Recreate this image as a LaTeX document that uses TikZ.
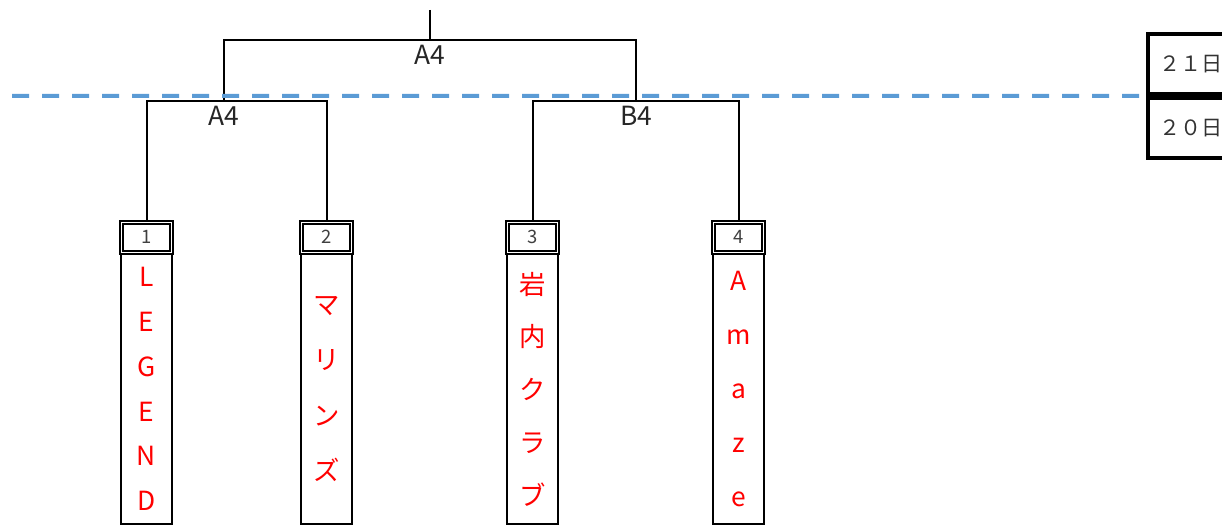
\documentclass[tikz,border=0pt]{standalone}
\usepackage{fontspec}
\setmainfont{Noto Sans CJK JP}
\usetikzlibrary{positioning}
\definecolor{splitblue}{RGB}{91,155,213}
\newcommand{\namefont}[1]{\fontsize{15}{#1}\selectfont}
\tikzstyle{numbox}=[rectangle,draw=black,double,line width=0.4mm,double distance=0.2mm,
minimum width=10mm,minimum height=5.9mm,inner sep=0pt,font=\fontsize{10.5}{12}\selectfont,text=black!75]
\tikzstyle{namecol}=[rectangle,draw=black,line width=0.4mm,minimum width=10.2mm,
minimum height=54mm,inner sep=0pt,align=center,text=red]
\tikzstyle{matchlabel}=[inner sep=0pt,font=\fontsize{15}{18}\selectfont,text=black!85]
\tikzstyle{bracket}=[draw=black,line width=0.4mm]
\tikzstyle{daycell}=[rectangle,draw=black,line width=0.8mm,minimum height=12mm,text width=18mm,
inner xsep=2.2mm,align=left,font=\fontsize{12}{14}\selectfont,text=black!80]
\tikzstyle{daysplit}=[draw=splitblue,line width=0.8mm,dash pattern=on 3.4mm off 2.6mm]

\begin{document}
\begin{tikzpicture}[x=0.2mm,y=-0.2mm]
            \useasboundingbox (0,0) rectangle (1222,525);

            % TEAMS PART

            \node[numbox] (b1) at (146.5,237.3) {1};
            \node[numbox] (b2) at (326.5,237.3) {2};
            \node[numbox] (b3) at (532.5,237.3) {3};
            \node[numbox] (b4) at (738.5,237.3) {4};

            \node[namecol, below=0pt of b1, font=\namefont{25.5}] (c1) {L\\E\\G\\E\\N\\D};
            \node[namecol, below=0pt of b2, font=\namefont{31.4}] (c2) {マ\\リ\\ン\\ズ};
            \node[namecol, below=0pt of b3, font=\namefont{30}] (c3) {岩\\内\\ク\\ラ\\ブ};
            \node[namecol, below=0pt of b4, font=\namefont{30.7}] (c4) {A\\m\\a\\z\\e};

            % BRACKET PART

            \coordinate (j1) at (224,100.7);
            \coordinate (j2) at (636,100.7);
            \coordinate (j0) at (430,40);
            \coordinate (stem) at (430,10);

            \path[bracket] (b1.north) |- (j1) -| (b2.north);
            \path[bracket] (b3.north) |- (j2) -| (b4.north);
            \path[bracket] (j1) |- (j0) -| (j2);
            \path[bracket] (stem) -- (j0);

            \node[matchlabel, below=3pt of j0] (m0) {A4};
            \node[matchlabel, below=3pt of j1] (m1) {A4};
            \node[matchlabel, below=3pt of j2] (m2) {B4};

            % DAY PART

            \node[daycell, anchor=north west] (d21) at (1146,32) {２１日};
            \node[daycell, below=0pt of d21] (d20) {２０日};

            \coordinate (s1) at (12,96);
            \coordinate (s2) at (d21.south west);
            \path[daysplit] (s1) -- (s2);

\end{tikzpicture}
\end{document}
